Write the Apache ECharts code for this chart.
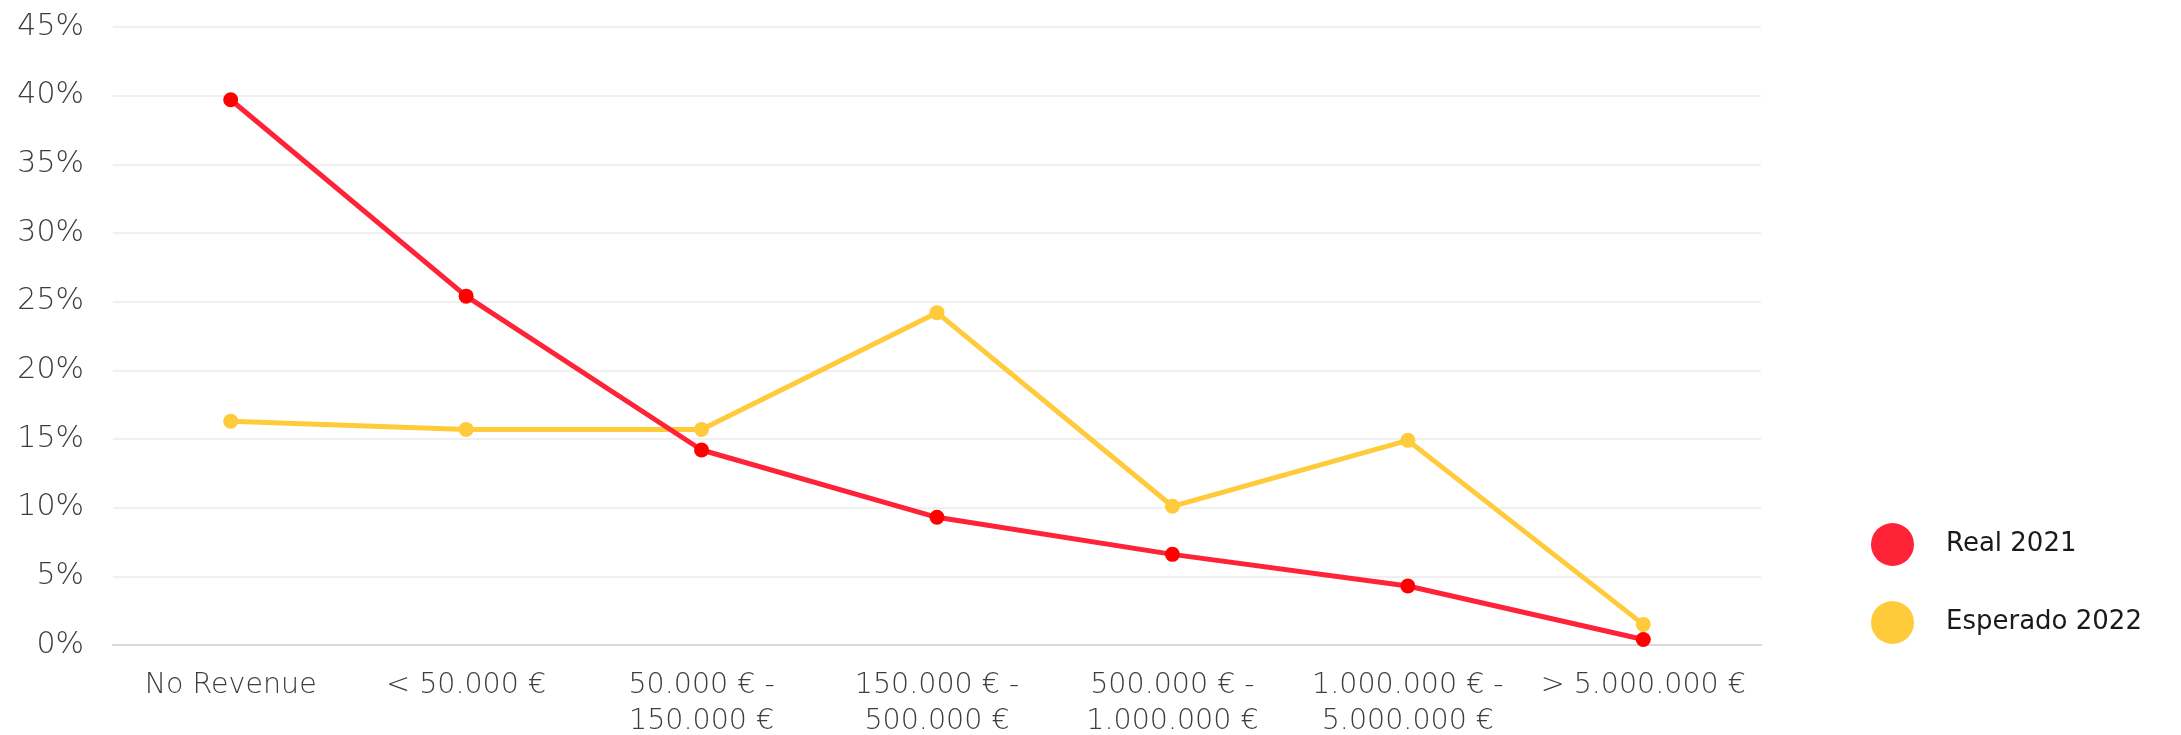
<!DOCTYPE html>
<html>
<head>
<meta charset="utf-8">
<script src="https://cdn.jsdelivr.net/npm/echarts@6/dist/echarts.min.js"></script>
<style>
  html, body { margin: 0; padding: 0; background: #fff; }
  #chart { width: 2181px; height: 735px; }
</style>
</head>
<body>
<div id="chart"></div>
<script>
const categories = [
  'No Revenue',
  '< 50.000 €',
  '50.000 € -\n150.000 €',
  '150.000 € -\n500.000 €',
  '500.000 € -\n1.000.000 €',
  '1.000.000 € -\n5.000.000 €',
  '> 5.000.000 €'
]
const real2021 = [39.7, 25.4, 14.2, 9.3, 6.6, 4.3, 0.4]
const esperado2022 = [16.3, 15.7, 15.7, 24.2, 10.1, 14.9, 1.5]
const yTicks = [0, 5, 10, 15, 20, 25, 30, 35, 40, 45]

const font = '"DejaVu Sans", sans-serif'
const chart = echarts.init(document.getElementById('chart'))

chart.setOption({
  animation: false,
  backgroundColor: '#fff',
  grid: { left: 113, right: 420, top: 27, bottom: 90, outerBoundsMode: 'none' },
  legend: {
    orient: 'vertical',
    left: 1866,
    top: 518,
    itemWidth: 43,
    itemHeight: 43,
    itemGap: 35,
    icon: 'circle',
    textStyle: { fontFamily: font, fontSize: 26, color: '#1a1a1a', padding: [0, 0, 0, 27] },
    data: [
      { name: 'Real 2021', itemStyle: { color: '#ff2338' } },
      { name: 'Esperado 2022', itemStyle: { color: '#ffcb3b' } }
    ]
  },
  xAxis: {
    type: 'category',
    data: categories,
    boundaryGap: true,
    axisLine: { lineStyle: { color: '#d9d9d9', width: 2 } },
    axisTick: { show: false },
    axisLabel: {
      interval: 0,
      margin: 23,
      fontFamily: font,
      fontSize: 28.5,
      fontWeight: 200,
      color: '#3d3d3d',
      lineHeight: 36
    }
  },
  yAxis: {
    type: 'value',
    min: yTicks[0],
    max: yTicks[yTicks.length - 1],
    interval: 5,
    axisLine: { show: false },
    axisTick: { show: false },
    splitLine: { lineStyle: { color: '#f0f0f0', width: 2 } },
    axisLabel: {
      margin: 29,
      fontFamily: font,
      fontSize: 30,
      fontWeight: 200,
      color: '#3d3d3d',
      formatter: v => v + '%'
    }
  },
  series: [
    {
      name: 'Real 2021',
      type: 'line',
      data: real2021,
      symbol: 'circle',
      symbolSize: 15,
      lineStyle: { color: '#ff2338', width: 5 },
      itemStyle: { color: '#ff0000' },
      z: 3
    },
    {
      name: 'Esperado 2022',
      type: 'line',
      data: esperado2022,
      symbol: 'circle',
      symbolSize: 15,
      lineStyle: { color: '#ffcb3b', width: 5 },
      itemStyle: { color: '#ffcb3b' },
      z: 2
    }
  ]
})
</script>
</body>
</html>
